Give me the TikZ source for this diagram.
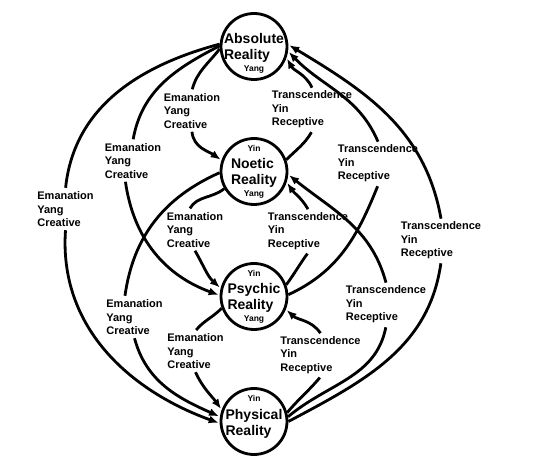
\documentclass[tikz,border=0pt]{standalone}
\usepackage{fontspec}
\setmainfont{Liberation Sans}
\usetikzlibrary{arrows.meta,positioning}

\tikzset{
  realm/.style={circle,draw,line width=2.8pt,minimum size=66pt,inner sep=0pt},
  rname/.style={font=\fontsize{14}{16}\selectfont\bfseries,align=left,inner sep=0pt},
  yy/.style={font=\fontsize{8.5}{9}\selectfont\bfseries,inner sep=0pt},
  way/.style={font=\fontsize{11}{13.5}\selectfont\bfseries,align=left,inner sep=3pt},
  every edge/.style={draw,line width=2.8pt}
}

\begin{document}
\begin{tikzpicture}[>={Latex[length=10pt,width=8pt]},shorten >=1pt,x=1pt,y=1pt,node distance=125pt]
\useasboundingbox (0,0) rectangle (539,472);

\node[realm] (abs) at (254,425.5) {};
\node[realm] (noe) [below of=abs] {};
\node[realm] (psy) [below of=noe] {};
\node[realm] (phy) [below of=psy] {};

\node[rname,yshift=-1.5pt] (absname) at (abs) {Absolute\\Reality};
\node[yy,yshift=-23pt]     (absyang) at (abs) {Yang};
\node[rname,yshift=-1.5pt] (noename) at (noe) {Noetic\\Reality};
\node[yy,yshift=23pt]      (noeyin)  at (noe) {Yin};
\node[yy,yshift=-23pt]     (noeyang) at (noe) {Yang};
\node[rname,yshift=-1pt]   (psyname) at (psy) {Psychic\\Reality};
\node[yy,yshift=23pt]      (psyyin)  at (psy) {Yin};
\node[yy,yshift=-23pt]     (psyyang) at (psy) {Yang};
\node[rname,yshift=-2pt]   (phyname) at (phy) {Physical\\Reality};
\node[yy,yshift=23pt]      (phyyin)  at (phy) {Yin};

% emanation, left side
\node[way] (ema1) at (192,361)     {Emanation\\Yang\\Creative};
\node[way] (ema2) at (133,311)     {Emanation\\Yang\\Creative};
\node[way] (ema3) at (65.5,262.5)  {Emanation\\Yang\\Creative};
\node[way] (ema4) at (195,242)     {Emanation\\Yang\\Creative};
\node[way] (ema5) at (134.5,154.5) {Emanation\\Yang\\Creative};
\node[way] (ema6) at (195.5,120.5) {Emanation\\Yang\\Creative};

% transcendence, right side
\node[way] (tra1) at (312,362.5)   {Transcendence\\Yin\\Receptive};
\node[way] (tra2) at (378,308.5)   {Transcendence\\Yin\\Receptive};
\node[way] (tra3) at (441,231.5)   {Transcendence\\Yin\\Receptive};
\node[way] (tra4) at (308,241)     {Transcendence\\Yin\\Receptive};
\node[way] (tra5) at (386,167.5)   {Transcendence\\Yin\\Receptive};
\node[way] (tra6) at (320.5,117)   {Transcendence\\Yin\\Receptive};

\path (abs.184) edge[out=232,in=75]  (ema1.north)
(ema1.south)    edge[->,out=-85,in=145] (noe.161)
(abs.179)       edge[out=207,in=80]  (ema2.north)
(ema2.-110)     edge[->,out=-82,in=160] (psy.178)
(abs.176)       edge[out=195,in=84]  (ema3.north)
(ema3.south)    edge[->,out=-94,in=160] (phy.183)
(noe.210)       edge[out=219,in=60]  (ema4.105)
(ema4.south)    edge[->,out=-60,in=138] (psy.166)
(noe.182)       edge[out=204,in=82]  (ema5.115)
(ema5.south)    edge[->,out=-75,in=156] (phy.172)
(psy.200)       edge[out=225,in=50]  (ema6.north)
(ema6.south)    edge[->,out=-65,in=126] (phy.160);

\path (noe.20)  edge[out=45,in=240]  (tra1.south)
(tra1.north)    edge[->,out=115,in=-61] (abs.-19)
(psy.3)         edge[out=25,in=248]  (tra2.south)
(tra2.north)    edge[->,out=113,in=-46] (abs.-8)
(phy.0)         edge[out=28,in=262]  (tra3.south)
(tra3.north)    edge[->,out=100,in=-31] (abs.3)
(psy.20)        edge[out=54,in=234]  (tra4.south)
(tra4.north)    edge[->,out=120,in=-56] (noe.-18)
(phy.8)         edge[out=40,in=259]  (tra5.south)
(tra5.north)    edge[->,out=105,in=-39] (noe.-5)
(phy.15)        edge[out=50,in=230]  (tra6.south)
(tra6.north)    edge[->,out=125,in=-42] (psy.-22);
\end{tikzpicture}
\end{document}
